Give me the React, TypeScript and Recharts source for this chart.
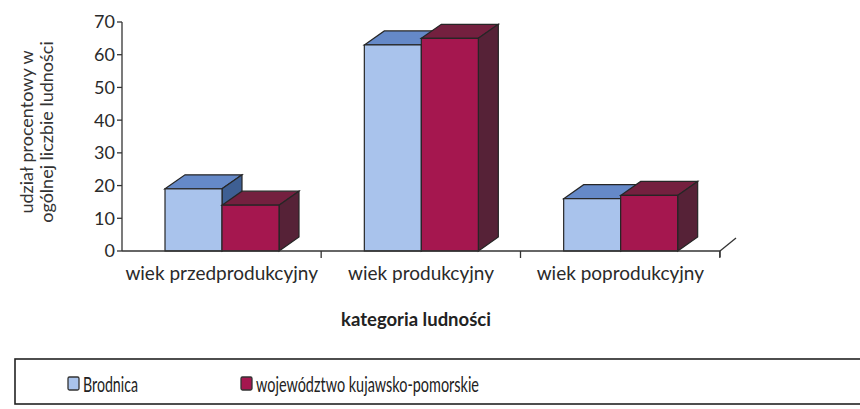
import React from "react";
import { Bar, BarChart, XAxis, YAxis } from "recharts";

const categories = ["wiek przedprodukcyjny", "wiek produkcyjny", "wiek poprodukcyjny"];
const brodnica = [19, 63, 16];
const kujawsko = [14, 65, 17];
const yTicks = [0, 10, 20, 30, 40, 50, 60, 70];
const seriesNames = ["Brodnica", "województwo kujawsko-pomorskie"];
const seriesColors = ["#a9c3ec", "#a5174f"];

const data = categories.map((c, i) => ({ c, brodnica: brodnica[i], kujawsko: kujawsko[i] }));

const FONT = "Lato, 'Open Sans', sans-serif";
const DX = 20;
const DY = 14;

function box(front: string, top: string, side: string) {
  return (props: any) => {
    const { x, y, width, height } = props;
    const s = "#262626";
    return (
      <g>
        <polygon
          points={`${x},${y} ${x + DX},${y - DY} ${x + width + DX},${y - DY} ${x + width},${y}`}
          fill={top}
          stroke={s}
          strokeWidth={1.2}
        />
        <polygon
          points={`${x + width},${y} ${x + width + DX},${y - DY} ${x + width + DX},${y + height - DY} ${x + width},${y + height}`}
          fill={side}
          stroke={s}
          strokeWidth={1.2}
        />
        <rect x={x} y={y} width={width} height={height} fill={front} stroke={s} strokeWidth={1.2} />
      </g>
    );
  };
}

function CatTick(props: any) {
  const { x, y, payload } = props;
  const half = 99.5;
  return (
    <g>
      <line x1={x + half} y1={y - 8} x2={x + half} y2={y - 1} stroke="#333" strokeWidth={1.3} />
      <text x={x} y={y + 21} textAnchor="middle" fontSize={19} fill="#2a2a2a" fontFamily={FONT}>
        {payload.value}
      </text>
    </g>
  );
}

// legend: narrow font look via textLength
const legendItems = [
  { sx: 68, tx: 83, len: 55 },
  { sx: 241, tx: 256, len: 223 },
];

export default function App() {
  return (
    <div style={{ position: "absolute", left: 0, top: 0, width: 860, height: 409, background: "#fff", overflow: "hidden" }}>
      <BarChart
        width={860}
        height={409}
        data={data}
        margin={{ top: 22, right: 140, bottom: 128, left: 0 }}
        barSize={57}
        barGap={0}
      >
        <YAxis
          domain={[0, 70]}
          ticks={yTicks}
          width={122}
          tickSize={5}
          axisLine={{ stroke: "#333", strokeWidth: 1.3 }}
          tickLine={{ stroke: "#333", strokeWidth: 1.3 }}
          tick={{ fontSize: 18, fill: "#2a2a2a", fontFamily: FONT }}
        />
        <XAxis
          dataKey="c"
          tickLine={false}
          axisLine={{ stroke: "#333", strokeWidth: 1.3 }}
          tick={<CatTick />}
          interval={0}
        />
        <Bar dataKey="brodnica" name={seriesNames[0]} isAnimationActive={false} shape={box(seriesColors[0], "#6589c8", "#3e5f93")} />
        <Bar
          dataKey="kujawsko"
          name={seriesNames[1]}
          isAnimationActive={false}
          shape={box(seriesColors[1], "#74203f", "#562237")}
        />
      </BarChart>
      <svg style={{ position: "absolute", left: 0, top: 0 }} width={860} height={409}>
        <line x1={720} y1={251} x2={736} y2={238} stroke="#333" strokeWidth={1.3} />
        <line x1={720} y1={251} x2={720} y2={257} stroke="#333" strokeWidth={1.3} />
        <text
          transform="translate(33,132) rotate(-90)"
          textAnchor="middle"
          fontSize={18}
          fill="#333"
          fontFamily={FONT}
        >
          udział procentowy w
        </text>
        <text
          transform="translate(53,132) rotate(-90)"
          textAnchor="middle"
          fontSize={18}
          fill="#333"
          fontFamily={FONT}
        >
          ogólnej liczbie ludności
        </text>
        <text x={416} y={326} textAnchor="middle" fontSize={18.5} fontWeight="bold" fill="#222" fontFamily={FONT}>
          kategoria ludności
        </text>
        <rect x={15} y={359} width={870} height={45} fill="none" stroke="#222" strokeWidth={1.6} />
        {legendItems.map((it, i) => (
          <g key={i}>
            <rect x={it.sx} y={377} width={11} height={13} rx={1.5} fill={seriesColors[i]} stroke="#333" strokeWidth={1.3} />
            <text
              x={it.tx}
              y={392}
              fontSize={22}
              fill="#222"
              fontFamily={FONT}
              textLength={it.len}
              lengthAdjust="spacingAndGlyphs"
            >
              {seriesNames[i]}
            </text>
          </g>
        ))}
      </svg>
    </div>
  );
}
